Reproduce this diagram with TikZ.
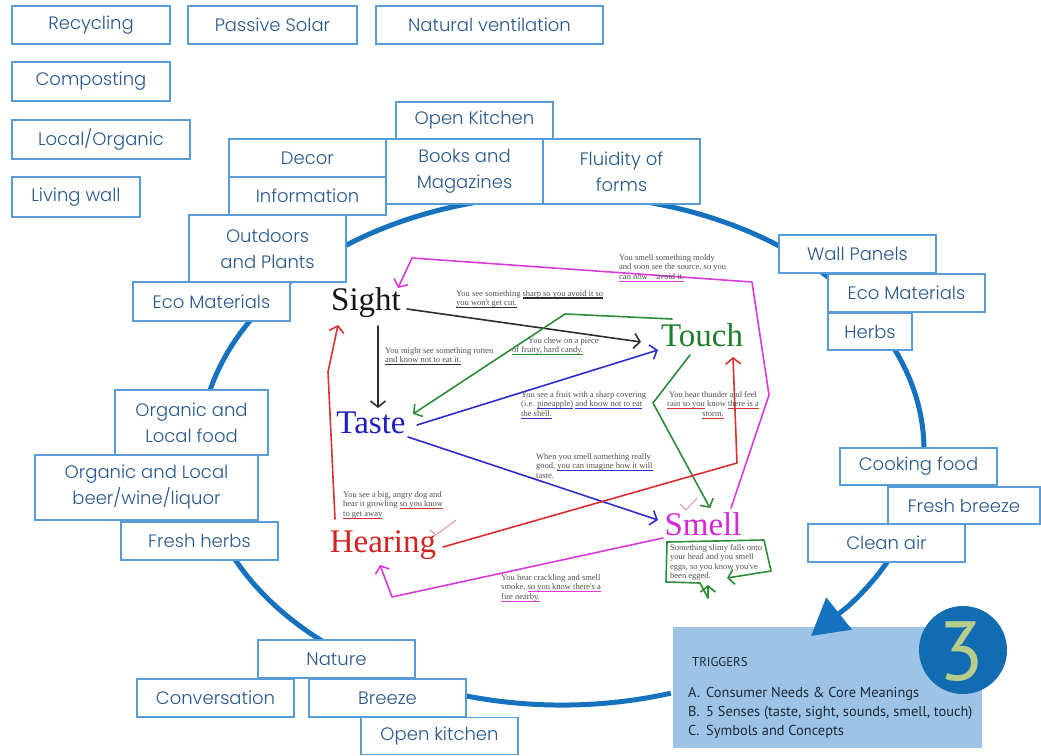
\documentclass[tikz,border=0pt]{standalone}
\usepackage{fontspec}
\usetikzlibrary{arrows.meta}
\newfontfamily\gothic{Poppins}[UprightFont=* Light]
\newfontfamily\senseserif{Liberation Serif}
\newfontfamily\trigfont{PT Sans}

\definecolor{boxline}{RGB}{88,156,215}
\definecolor{boxtext}{RGB}{40,88,138}
\definecolor{ringblue}{RGB}{22,114,190}
\definecolor{trigfill}{RGB}{157,196,230}
\definecolor{badgeblue}{RGB}{18,108,178}
\definecolor{badgetext}{RGB}{184,204,140}
\definecolor{trigtext}{RGB}{30,40,55}
\definecolor{inkblack}{RGB}{45,45,45}
\definecolor{inkgreen}{RGB}{45,140,55}
\definecolor{inkblue}{RGB}{45,45,200}
\definecolor{inkred}{RGB}{215,50,50}
\definecolor{inkpink}{RGB}{215,60,215}
\definecolor{notegray}{RGB}{80,80,80}
\definecolor{tickpink}{RGB}{228,155,175}
\definecolor{wsight}{RGB}{20,20,20}
\definecolor{wtouch}{RGB}{30,125,40}
\definecolor{wtaste}{RGB}{30,30,190}
\definecolor{whearing}{RGB}{210,35,35}
\definecolor{wsmell}{RGB}{215,40,215}

% coloured underline for the small notes
\newsavebox\ulbox
\newcommand\cul[2]{\sbox\ulbox{#2}\rlap{\textcolor{#1}{\rule[-2.4pt]{\wd\ulbox}{1.2pt}}}\usebox\ulbox}

\tikzset{
  gbox/.style={draw=boxline, line width=1.5pt, fill=white, text=boxtext,
    font=\gothic\fontsize{18}{26}\selectfont, minimum width=157pt,
    minimum height=38pt, inner sep=0pt, align=center},
  sense/.style={font=\senseserif\fontsize{33}{36}\selectfont, inner sep=0pt},
  note/.style={font=\senseserif\fontsize{8.5}{9.6}\selectfont, text=notegray,
    inner sep=0pt, anchor=north west, align=left},
  ink/.style={draw=#1, line width=1.6pt, line join=round, line cap=round,
    -{Straight Barb[length=6pt,width=15pt]}},
  inkplain/.style={draw=#1, line width=1.6pt, line join=round, line cap=round},
  tick/.style={draw=tickpink, line width=1.1pt, line join=round, line cap=round},
  trig/.style={font=\trigfont\fontsize{14.4}{16}\selectfont, text=trigtext,
    anchor=west, inner sep=0pt},
}

\begin{document}
\begin{tikzpicture}[x=1pt,y=-1pt]
\useasboundingbox (0,0) rectangle (1041,755);

% triggers panel
\node[fill=trigfill, minimum width=309pt, minimum height=121pt, inner sep=0pt]
  (triggers) at (827.5,687.5) {};
\node[trig, font=\trigfont\fontsize{12.8}{14}\selectfont] (trigtitle) at (692,662) {TRIGGERS};
\node[trig] (triga) at (688,694) {\makebox[18pt][l]{A.}Consumer Needs \& Core Meanings};
\node[trig] (trigb) at (688,713) {\makebox[18pt][l]{B.}5 Senses (taste, sight, sounds, smell, touch)};
\node[trig] (trigc) at (688,732) {\makebox[18pt][l]{C.}Symbols and Concepts};

% the big cycle ring ending in the triggers panel
\coordinate (ringtip) at (811,636);
\draw[ringblue, line width=5pt, line join=round, -{Triangle[length=36pt,width=40pt]}]
  (562,450) ++({362*cos(72.5)},{255*sin(72.5)})
  arc[start angle=72.5, end angle=398, x radius=362, y radius=255]
  -- (ringtip);

\node[circle, fill=badgeblue, minimum size=88pt, inner sep=0pt] (badge) at (963,650) {};
\node[font=\trigfont\fontsize{84}{84}\selectfont, text=badgetext, inner sep=0pt] (badgenum) at (961,652) {3};

% idea boxes
\node[gbox, minimum width=158pt] (recycling) at (91,25) {Recycling};
\node[gbox, minimum width=169pt] (solar) at (272.5,25) {Passive Solar};
\node[gbox, minimum width=227pt] (ventilation) at (489.5,25) {Natural ventilation};
\node[gbox, minimum width=158pt, minimum height=39pt] (composting) at (91,81.5) {Composting};
\node[gbox, minimum width=178pt, minimum height=39pt] (localorganic) at (101,139.5) {Local/Organic};
\node[gbox, minimum width=128pt, minimum height=40pt] (livingwall) at (76,197) {Living wall};

\node[gbox, minimum height=37pt] (openkitchentop) at (474.5,120.5) {Open Kitchen};
\node[gbox] (decor) at (307.5,158) {Decor};
\node[gbox] (information) at (307.5,196) {Information};
\node[gbox, minimum height=65pt] (books) at (464.5,171.5) {Books and\\Magazines};
\node[gbox, minimum height=65pt] (fluidity) at (621.5,171.5) {Fluidity of\\forms};
\node[gbox, minimum height=67pt] (outdoors) at (267.5,248.5) {Outdoors\\and Plants};
\node[gbox, minimum height=39pt] (ecoleft) at (211.5,301.5) {Eco Materials};

\node[gbox] (wallpanels) at (857.5,254) {Wall Panels};
\node[gbox] (ecoright) at (906.5,293) {Eco Materials};
\node[gbox, minimum width=84pt, minimum height=37pt] (herbs) at (870,331.5) {Herbs};

\node[gbox, minimum width=153pt, minimum height=65pt] (localfood) at (191.5,422.5) {Organic and\\Local food};
\node[gbox, minimum width=223pt, minimum height=65pt] (beer) at (146.5,487.5) {Organic and Local\\beer/wine/liquor};
\node[gbox] (freshherbs) at (199.5,541) {Fresh herbs};

\node[gbox, minimum height=37pt] (cooking) at (918.5,466.5) {Cooking food};
\node[gbox, minimum width=152pt, minimum height=37pt] (freshbreeze) at (964,505.5) {Fresh breeze};
\node[gbox] (cleanair) at (886.5,543) {Clean air};

\node[gbox] (nature) at (336.5,659) {Nature};
\node[gbox] (conversation) at (215.5,698) {Conversation};
\node[gbox] (breeze) at (387.5,698) {Breeze};
\node[gbox, minimum height=37pt] (openkitchen) at (439.5,736) {Open kitchen};

% the five senses
\node[sense, text=wsight] (sight) at (366,303) {Sight};
\node[sense, text=wtouch] (touch) at (702,335) {Touch};
\node[sense, text=wtaste] (taste) at (371,423) {Taste};
\node[sense, text=whearing] (hearing) at (383,545) {Hearing};
\node[sense, text=wsmell] (smell) at (703,524) {Smell};

% end points of the hand-drawn links
\coordinate (sightOutE) at (407,309);
\coordinate (sightOutS) at (378,326);
\coordinate (touchInW) at (641,342);
\coordinate (touchInSW) at (658,350);
\coordinate (touchInS) at (733,357);
\coordinate (touchOutW) at (672,319);
\coordinate (touchOutS) at (690,355);
\coordinate (tasteInN) at (378,408);
\coordinate (tasteInE) at (413,414);
\coordinate (tasteOutE) at (417,425);
\coordinate (tasteOutSE) at (408,437);
\coordinate (smellInW) at (658,520);
\coordinate (smellInN) at (710,508);
\coordinate (smellOutN) at (731,508);
\coordinate (smellOutW) at (663,538);
\coordinate (hearingOutN) at (335,519);
\coordinate (hearingOutE) at (443,547);
\coordinate (hearingInS) at (380,565);
\coordinate (sightInN) at (398,288);
\coordinate (sightInS) at (338,325);

% black links
\draw[ink=inkblack] (sightOutE) -- (touchInW);
\draw[ink=inkblack] (sightOutS) -- (tasteInN);
% green links
\draw[ink=inkgreen] (touchOutW) -- (565,314) -- (tasteInE);
\draw[ink=inkgreen] (touchOutS) -- (653,403) -- (smellInN);
% blue links
\draw[ink=inkblue] (tasteOutE) -- (touchInSW);
\draw[ink=inkblue] (tasteOutSE) -- (smellInW);
% red links
\draw[ink=inkred] (hearingOutN) -- (328,372) -- (sightInS);
\draw[ink=inkred] (hearingOutE) -- (737,463) -- (touchInS);
% magenta links
\draw[ink=inkpink] (smellOutN) -- (769,395) -- (752,282) -- (412,258) -- (sightInN);
\draw[ink=inkpink] (smellOutW) -- (392,597) -- (hearingInS);

% small check marks
\draw[tick] (430,530) -- (436,535) -- (456,520);
\draw[tick] (680,504) -- (686,510) -- (697,498);

% notes
\node[note] (n1) at (456,290) {You see something \cul{inkblack}{sharp so you avoid it so}\\\cul{inkblack}{you won't get cut.}};
\node[note] (n2) at (619,254) {You smell something moldy\\and soon see the source, so you\\\cul{inkpink}{can now\quad avoid it.}};
\node[note] (n3) at (385,347) {You might see something rotten\\\cul{inkblack}{and know not to eat it.}};
\node[note] (n4) at (512,337) {\hspace*{16pt}You chew on a piece\\\cul{inkgreen}{of fruity, hard candy.}};
\node[note] (n5) at (521,391) {You see a fruit with a sharp covering\\(i.e. \cul{inkblue}{pineapple)} \cul{inkblue}{and know not to eat}\\\cul{inkblue}{the shell.}};
\node[note, anchor=north, align=center] (n6) at (713,391) {You hear thunder and feel\\\cul{inkred}{rain so you} know \cul{inkred}{there is a}\\\cul{inkred}{storm.}};
\node[note] (n7) at (536,453) {When you smell something really\\good, \cul{inkblue}{you can imagine how it will}\\taste.};
\node[note] (n8) at (343,491) {You see a big, angry dog and\\hear it growling \cul{inkred}{so you know}\\\cul{inkred}{to get away}};
\node[note] (n9) at (501,574) {You hear crackling and smell\\smoke, \cul{inkpink}{so you know there's a}\\\cul{inkpink}{fire nearby.}};
\node[note] (n10) at (670,544) {Something slimy falls onto\\your head and you smell\\eggs, so you know you've\\been egged.};

% green callout round the last note
\coordinate (bubbleTL) at (667,542);
\coordinate (bubbleTip) at (708,598);
\draw[ink=inkgreen] (bubbleTL) -- (764,540) -- (771,571) -- (727,578);
\draw[inkplain=inkgreen] (bubbleTL) -- (666,582) -- (700,583) -- (bubbleTip);
\draw[ink=inkgreen] (bubbleTip) -- (708,585);
\end{tikzpicture}
\end{document}
